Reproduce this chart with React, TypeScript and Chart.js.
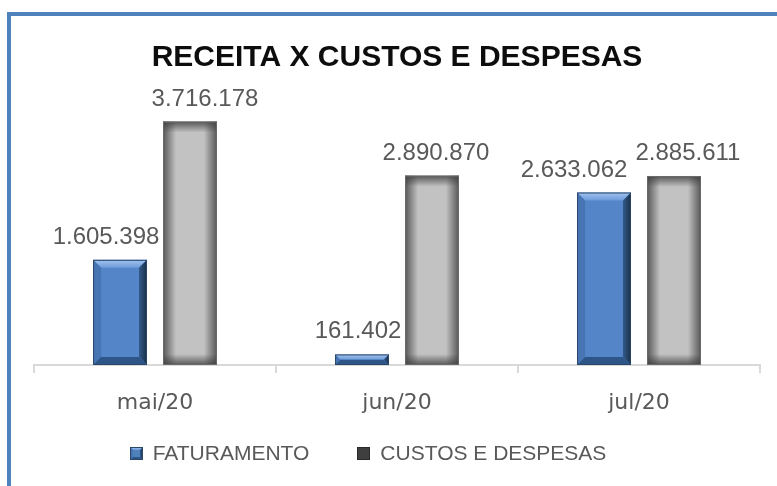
import React, { useEffect, useRef } from 'react';
import { Chart, registerables } from 'chart.js';

Chart.register(...registerables);

const chartTitle = 'RECEITA X CUSTOS E DESPESAS';
const categories = ['mai/20', 'jun/20', 'jul/20'];
const seriesNames = ['FATURAMENTO', 'CUSTOS E DESPESAS'];
const faturamento = [1605398, 161402, 2633062];
const custosDespesas = [3716178, 2890870, 2885611];
const yMax = 4000000;

// horizontal nudges of the value labels (style only)
const labelShift = [
  [-14, -4, -30],
  [15, 4, 14],
];

function fmt(v: number): string {
  return String(v).replace(/\B(?=(\d{3})+(?!\d))/g, '.');
}

function poly(ctx: CanvasRenderingContext2D, pts: number[][], fill: string | CanvasGradient) {
  ctx.beginPath();
  ctx.moveTo(pts[0][0], pts[0][1]);
  for (let i = 1; i < pts.length; i++) ctx.lineTo(pts[i][0], pts[i][1]);
  ctx.closePath();
  ctx.fillStyle = fill;
  ctx.fill();
}

function drawBlue(ctx: CanvasRenderingContext2D, l: number, t: number, r: number, b: number, maxBevel: number) {
  const bv = Math.min(maxBevel, (b - t) / 2, (r - l) / 2);
  const gTop = ctx.createLinearGradient(0, t, 0, t + bv);
  gTop.addColorStop(0, '#a3c4ee');
  gTop.addColorStop(1, '#6c9bdb');
  poly(ctx, [[l, t], [r, t], [r - bv, t + bv], [l + bv, t + bv]], gTop);
  poly(ctx, [[l, t], [l + bv, t + bv], [l + bv, b - bv], [l, b]], '#4775b3');
  const gR = ctx.createLinearGradient(r - bv, 0, r, 0);
  gR.addColorStop(0, '#335a8a');
  gR.addColorStop(1, '#1b2f48');
  poly(ctx, [[r, t], [r, b], [r - bv, b - bv], [r - bv, t + bv]], gR);
  poly(ctx, [[l, b], [r, b], [r - bv, b - bv], [l + bv, b - bv]], '#2e5587');
  ctx.strokeStyle = '#2a4669';
  ctx.lineWidth = 1;
  ctx.strokeRect(l + 0.5, t + 0.5, r - l - 1, b - t - 1);
}

function drawGray(ctx: CanvasRenderingContext2D, l: number, t: number, r: number, b: number) {
  const s = Math.min(13, (r - l) / 2);
  const sv = Math.min(11, (b - t) / 2);
  const dark = 'rgba(60,60,60,0.8)';
  const clear = 'rgba(60,60,60,0)';
  let g = ctx.createLinearGradient(l, 0, l + s, 0);
  g.addColorStop(0, dark);
  g.addColorStop(1, clear);
  ctx.fillStyle = g;
  ctx.fillRect(l, t, s, b - t);
  g = ctx.createLinearGradient(r, 0, r - s, 0);
  g.addColorStop(0, dark);
  g.addColorStop(1, clear);
  ctx.fillStyle = g;
  ctx.fillRect(r - s, t, s, b - t);
  g = ctx.createLinearGradient(0, t, 0, t + sv);
  g.addColorStop(0, dark);
  g.addColorStop(1, clear);
  ctx.fillStyle = g;
  ctx.fillRect(l, t, r - l, sv);
  g = ctx.createLinearGradient(0, b, 0, b - sv);
  g.addColorStop(0, dark);
  g.addColorStop(1, clear);
  ctx.fillStyle = g;
  ctx.fillRect(l, b - sv, r - l, sv);
  ctx.strokeStyle = '#6a6a6a';
  ctx.lineWidth = 1;
  ctx.strokeRect(l + 0.5, t + 0.5, r - l - 1, b - t - 1);
}

const bevelPlugin = {
  id: 'bevelBars',
  afterDatasetsDraw(chart: any) {
    const ctx: CanvasRenderingContext2D = chart.ctx;
    chart.data.datasets.forEach((_ds: any, di: number) => {
      const meta = chart.getDatasetMeta(di);
      meta.data.forEach((el: any) => {
        const { x, y, base, width } = el.getProps(['x', 'y', 'base', 'width'], true);
        const l = x - width / 2;
        const r = x + width / 2;
        const t = Math.min(y, base);
        const b = Math.max(y, base);
        ctx.save();
        if (di === 0) drawBlue(ctx, l, t, r, b, 8);
        else drawGray(ctx, l, t, r, b);
        ctx.restore();
      });
    });
  },
};

const valueLabelPlugin = {
  id: 'valueLabels',
  afterDatasetsDraw(chart: any) {
    const ctx: CanvasRenderingContext2D = chart.ctx;
    ctx.save();
    ctx.font = '24px "Liberation Sans", Arial, sans-serif';
    ctx.fillStyle = '#595959';
    ctx.textAlign = 'center';
    ctx.textBaseline = 'alphabetic';
    chart.data.datasets.forEach((ds: any, di: number) => {
      const meta = chart.getDatasetMeta(di);
      meta.data.forEach((el: any, j: number) => {
        const { x, y } = el.getProps(['x', 'y'], true);
        ctx.fillText(fmt(ds.data[j]), x + labelShift[di][j], y - 16);
      });
    });
    ctx.restore();
  },
};

const legendPlugin = {
  id: 'bottomLegend',
  afterDraw(chart: any) {
    const ctx: CanvasRenderingContext2D = chart.ctx;
    const ca = chart.chartArea;
    ctx.save();
    ctx.font = '21px "Liberation Sans", Arial, sans-serif';
    const names: string[] = chart.data.datasets.map((d: any) => d.label);
    const widths = names.map((n) => ctx.measureText(n).width);
    const box = 13;
    const gap = 10;
    const itemGap = 48;
    const total = widths.reduce((a, w) => a + box + gap + w, 0) + itemGap * (names.length - 1);
    let x = (ca.left + ca.right) / 2 - 29 - total / 2;
    const cy = ca.bottom + 88;
    names.forEach((n, i) => {
      const t = Math.round(cy - box / 2);
      const l = Math.round(x);
      if (i === 0) {
        ctx.fillStyle = '#4f81bd';
        ctx.fillRect(l, t, box, box);
        drawBlue(ctx, l, t, l + box, t + box, 3);
      } else {
        ctx.fillStyle = '#3f3f3f';
        ctx.fillRect(l, t, box, box);
        ctx.strokeStyle = '#2a2a2a';
        ctx.lineWidth = 1;
        ctx.strokeRect(l + 0.5, t + 0.5, box - 1, box - 1);
      }
      ctx.fillStyle = '#595959';
      ctx.textAlign = 'left';
      ctx.textBaseline = 'middle';
      ctx.fillText(n, x + box + gap, cy + 1);
      x += box + gap + widths[i] + itemGap;
    });
    ctx.restore();
  },
};

export default function App() {
  const canvasRef = useRef<HTMLCanvasElement | null>(null);

  useEffect(() => {
    if (!canvasRef.current) return;
    const chart = new Chart(canvasRef.current, {
      type: 'bar',
      data: {
        labels: categories,
        datasets: [
          {
            label: seriesNames[0],
            data: faturamento,
            backgroundColor: '#5385c8',
            borderWidth: 0,
            categoryPercentage: 0.578,
            barPercentage: 0.771,
          },
          {
            label: seriesNames[1],
            data: custosDespesas,
            backgroundColor: '#c2c2c2',
            borderWidth: 0,
            categoryPercentage: 0.578,
            barPercentage: 0.771,
          },
        ],
      },
      options: {
        responsive: false,
        maintainAspectRatio: false,
        animation: false,
        events: [],
        layout: { padding: { left: 23, right: 17, top: 0, bottom: 52.6 } },
        plugins: {
          legend: { display: false },
          tooltip: { enabled: false },
          title: {
            display: true,
            text: chartTitle,
            color: '#0d0d0d',
            font: { family: '"Liberation Sans", Arial, sans-serif', size: 30, weight: 'bold', lineHeight: 1.2 },
            padding: { top: 24, bottom: 27 },
          },
        },
        scales: {
          x: {
            grid: {
              display: true,
              drawOnChartArea: false,
              drawTicks: true,
              tickLength: 8,
              color: '#d9d9d9',
              lineWidth: 2,
              offset: true,
            },
            border: { display: true, color: '#d9d9d9', width: 2 },
            ticks: {
              color: '#595959',
              padding: 17,
              font: { family: '"DejaVu Sans", sans-serif', size: 22, lineHeight: 1.2 },
            },
          },
          y: {
            display: false,
            min: 0,
            max: yMax,
          },
        },
      },
      plugins: [bevelPlugin, valueLabelPlugin, legendPlugin],
    });
    return () => chart.destroy();
  }, []);

  return (
    <div
      style={{
        position: 'fixed',
        left: 7,
        top: 12,
        width: 820,
        height: 520,
        borderLeft: '4px solid #4f81bd',
        borderTop: '4px solid #4f81bd',
        background: '#ffffff',
        overflow: 'hidden',
      }}
    >
      <canvas ref={canvasRef} width={766} height={470} style={{ display: 'block' }} />
    </div>
  );
}
